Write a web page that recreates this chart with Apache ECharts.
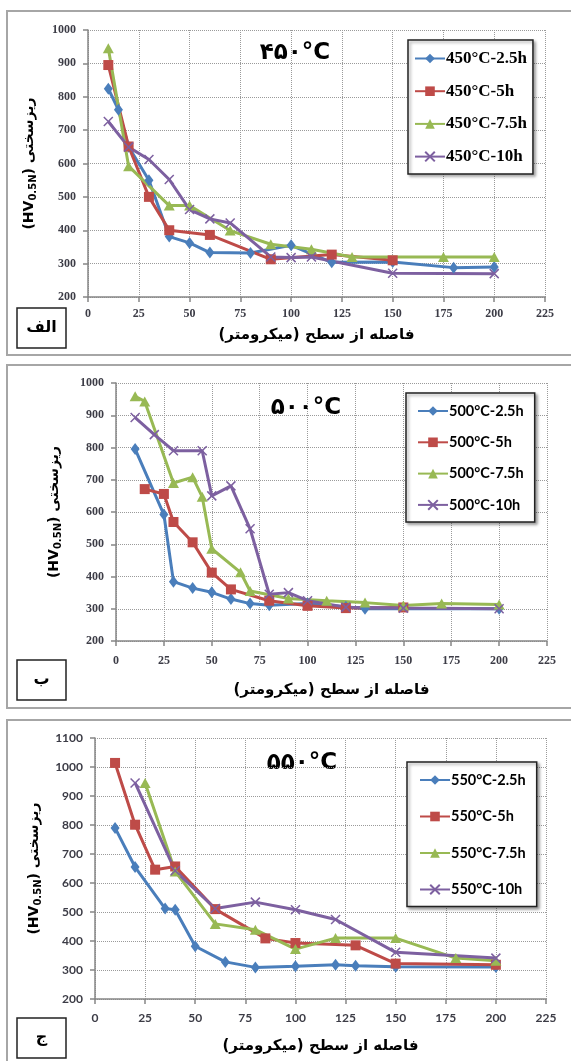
<!DOCTYPE html>
<html>
<head>
<meta charset="utf-8">
<script src="https://cdn.jsdelivr.net/npm/echarts@6/dist/echarts.min.js"></script>
<style>
  html, body { margin: 0; padding: 0; background: #fff; }
  #chart { width: 571px; height: 1061px; }
</style>
</head>
<body>
<div id="chart"></div>
<script>
// Microhardness profiles vs. depth below the surface, three nitriding temperatures.

// --- 450 °C ---
const x450_2_5h = [10, 15, 20, 30, 40, 50, 60, 80, 100, 120, 150, 180, 200];
const hv450_2_5h = [824, 761, 650, 550, 381, 362, 333, 332, 355, 304, 305, 288, 290];
const x450_5h = [10, 20, 30, 40, 60, 90, 120, 150];
const hv450_5h = [895, 651, 500, 400, 386, 313, 327, 310];
const x450_7_5h = [10, 20, 40, 50, 70, 90, 110, 130, 175, 200];
const hv450_7_5h = [945, 592, 474, 474, 399, 358, 343, 320, 320, 320];
const x450_10h = [10, 20, 30, 40, 50, 60, 70, 90, 100, 110, 150, 200];
const hv450_10h = [726, 649, 612, 552, 462, 434, 422, 320, 318, 320, 271, 270];

// --- 500 °C ---
const x500_2_5h = [10, 25, 30, 40, 50, 60, 70, 80, 100, 120, 130, 200];
const hv500_2_5h = [795, 592, 384, 364, 351, 330, 316, 311, 316, 306, 300, 300];
const x500_5h = [15, 25, 30, 40, 50, 60, 80, 100, 120, 150];
const hv500_5h = [671, 656, 569, 506, 412, 360, 325, 309, 302, 304];
const x500_7_5h = [10, 15, 30, 40, 45, 50, 65, 70, 90, 110, 130, 150, 170, 200];
const hv500_7_5h = [959, 943, 690, 708, 647, 486, 413, 355, 332, 325, 319, 310, 316, 313];
const x500_10h = [10, 20, 30, 45, 50, 60, 70, 80, 90, 100, 120, 150, 200];
const hv500_10h = [893, 840, 790, 790, 650, 681, 548, 345, 350, 325, 305, 302, 300];

// --- 550 °C ---
const x550_2_5h = [10, 20, 35, 40, 50, 65, 80, 100, 120, 130, 150, 200];
const hv550_2_5h = [790, 655, 512, 508, 382, 328, 309, 313, 318, 315, 311, 310];
const x550_5h = [10, 20, 30, 40, 60, 85, 100, 130, 150, 200];
const hv550_5h = [1014, 801, 646, 657, 510, 409, 393, 385, 322, 318];
const x550_7_5h = [25, 40, 60, 80, 100, 120, 150, 180, 200];
const hv550_7_5h = [945, 640, 459, 439, 372, 410, 410, 341, 332];
const x550_10h = [20, 40, 60, 80, 100, 120, 150, 200];
const hv550_10h = [945, 642, 512, 534, 508, 474, 361, 341];

// Series names and panel captions
const names450 = ['450°C-2.5h', '450°C-5h', '450°C-7.5h', '450°C-10h'];
const names500 = ['500°C-2.5h', '500°C-5h', '500°C-7.5h', '500°C-10h'];
const names550 = ['550°C-2.5h', '550°C-5h', '550°C-7.5h', '550°C-10h'];
const panelTitles = ['۴۵۰°C', '۵۰۰°C', '۵۵۰°C'];
const panelTags = ['الف', 'ب', 'ج'];
const xAxisTitle = 'فاصله از سطح (میکرومتر)\u200F';
const yAxisTitle = '{a|(HV}{s|0.5N}{a|) ریزسختی}';

const COLORS = ['#4A7EBB', '#BE4B48', '#98B954', '#7D60A0'];
const CROSS = 'path://M0,0L10,10M10,0L0,10';
const MARKERS = [
  { symbol: 'diamond', symbolSize: [9, 12] },
  { symbol: 'rect', symbolSize: [10, 10] },
  { symbol: 'triangle', symbolSize: [11, 10] },
  { symbol: CROSS, symbolSize: [9, 9] }
];

function pairs(xs, ys) { return xs.map((x, i) => [x, ys[i]]); }

function makeSeries(panel, names, sets) {
  return sets.map((s, k) => {
    const cross = k === 3;
    return {
      type: 'line',
      name: names[k],
      xAxisIndex: panel,
      yAxisIndex: panel,
      data: pairs(s[0], s[1]),
      symbol: MARKERS[k].symbol,
      symbolSize: MARKERS[k].symbolSize,
      showAllSymbol: true,
      lineStyle: { color: COLORS[k], width: 3 },
      itemStyle: cross
        ? { color: COLORS[k], borderColor: COLORS[k], borderWidth: 1.5 }
        : { color: COLORS[k], borderWidth: 0 },
      emphasis: { disabled: true },
      animation: false
    };
  });
}

const grids = [
  { left: 88, top: 30, width: 457, height: 267 },
  { left: 116, top: 383, width: 431, height: 258 },
  { left: 95, top: 738, width: 451, height: 261 }
];
const yMax = [1000, 1000, 1100];
const tickFonts = ['Liberation Serif', 'Liberation Serif', 'Lato'];
const xNameGap = [31, 42, 40];
const yNameGap = [50, 53, 52];
const xLabelMargin = [11, 14, 13];

const axisLineStyle = { color: '#868686', width: 1.5 };
const gridLineStyle = { color: '#9a9a9a', width: 1, type: 'dotted' };
const plainNumber = v => String(v);

const xAxes = grids.map((g, i) => ({
  type: 'value', gridIndex: i, min: 0, max: 225, interval: 25,
  axisLine: { show: true, lineStyle: axisLineStyle },
  axisTick: { show: true, length: 5, lineStyle: axisLineStyle },
  splitLine: { show: true, lineStyle: gridLineStyle },
  axisLabel: { margin: xLabelMargin[i], color: '#3c3c46', fontSize: 12, fontWeight: 'bold', fontFamily: tickFonts[i], formatter: plainNumber },
  name: xAxisTitle, nameLocation: 'middle', nameGap: xNameGap[i],
  nameTextStyle: { fontFamily: 'DejaVu Sans', fontWeight: 'bold', fontSize: 15, color: '#000' }
}));

const yAxes = grids.map((g, i) => ({
  type: 'value', gridIndex: i, min: 200, max: yMax[i], interval: 100,
  axisLine: { show: true, lineStyle: axisLineStyle },
  axisTick: { show: true, length: 5, lineStyle: axisLineStyle },
  splitLine: { show: true, lineStyle: gridLineStyle },
  axisLabel: { margin: 12, color: '#3c3c46', fontSize: 12, fontWeight: 'bold', fontFamily: tickFonts[i], formatter: plainNumber },
  name: yAxisTitle, nameLocation: 'middle', nameGap: yNameGap[i], nameRotate: 90,
  nameTextStyle: {
    color: '#000',
    rich: {
      a: { fontFamily: 'DejaVu Sans', fontWeight: 'bold', fontSize: 14, color: '#000' },
      s: { fontFamily: 'DejaVu Sans', fontWeight: 'bold', fontSize: 10, color: '#000', padding: [7, 0, 0, 0] }
    }
  }
}));

function legendBox(left, top, names, gap, font, size, pad) {
  return {
    orient: 'vertical', left: left, top: top, data: names,
    itemWidth: 30, itemHeight: 12, itemGap: gap,
    padding: pad,
    backgroundColor: '#fff', borderColor: '#222', borderWidth: 1.5,
    shadowColor: 'rgba(0,0,0,0.35)', shadowBlur: 3, shadowOffsetX: 2, shadowOffsetY: 2,
    selectedMode: false,
    textStyle: { fontFamily: font, fontWeight: 'bold', fontSize: size, color: '#000', lineHeight: 16, padding: [0, 0, 0, -4] }
  };
}

const legends = [
  legendBox(408, 40, names450, 15.7, 'Liberation Serif', 17, [10, 6, 9, 6]),
  legendBox(406, 393, names500, 15.3, 'Lato', 14.5, [10, 11, 9, 11]),
  legendBox(407, 762, names550, 20.5, 'Lato', 14.5, [10, 11, 9, 12])
];

const series = [].concat(
  makeSeries(0, names450, [[x450_2_5h, hv450_2_5h], [x450_5h, hv450_5h], [x450_7_5h, hv450_7_5h], [x450_10h, hv450_10h]]),
  makeSeries(1, names500, [[x500_2_5h, hv500_2_5h], [x500_5h, hv500_5h], [x500_7_5h, hv500_7_5h], [x500_10h, hv500_10h]]),
  makeSeries(2, names550, [[x550_2_5h, hv550_2_5h], [x550_5h, hv550_5h], [x550_7_5h, hv550_7_5h], [x550_10h, hv550_10h]])
);

// Frames, panel tags and temperature captions
const frames = [[7, 11, 600, 344], [7, 365, 600, 343], [7, 720, 600, 360]];
const tagBoxes = [[17, 308, 49, 40], [17, 660, 49, 40], [17, 1018, 49, 40]];
const titlePos = [[295, 53], [306, 408], [302, 763]];

const graphics = [];
frames.forEach(f => graphics.push({
  type: 'rect', z: -1, silent: true,
  shape: { x: f[0], y: f[1], width: f[2], height: f[3] },
  style: { fill: 'none', stroke: '#a6a6a6', lineWidth: 2 }
}));
tagBoxes.forEach((b, i) => {
  graphics.push({
    type: 'rect', silent: true,
    shape: { x: b[0], y: b[1], width: b[2], height: b[3] },
    style: { fill: '#fff', stroke: '#222', lineWidth: 1.5 }
  });
  graphics.push({
    type: 'text', silent: true, x: b[0] + b[2] / 2, y: b[1] + b[3] / 2,
    style: { text: panelTags[i], font: 'bold 16px "DejaVu Sans"', fill: '#000', align: 'center', verticalAlign: 'middle' }
  });
});
titlePos.forEach((p, i) => graphics.push({
  type: 'text', silent: true, x: p[0], y: p[1],
  style: { text: panelTitles[i], font: 'bold 23px "DejaVu Sans"', fill: '#000', align: 'center', verticalAlign: 'middle' }
}));

const chart = echarts.init(document.getElementById('chart'), null, { renderer: 'canvas' });
chart.setOption({
  backgroundColor: '#fff',
  animation: false,
  grid: grids,
  xAxis: xAxes,
  yAxis: yAxes,
  legend: legends,
  series: series,
  graphic: graphics
});
</script>
</body>
</html>
